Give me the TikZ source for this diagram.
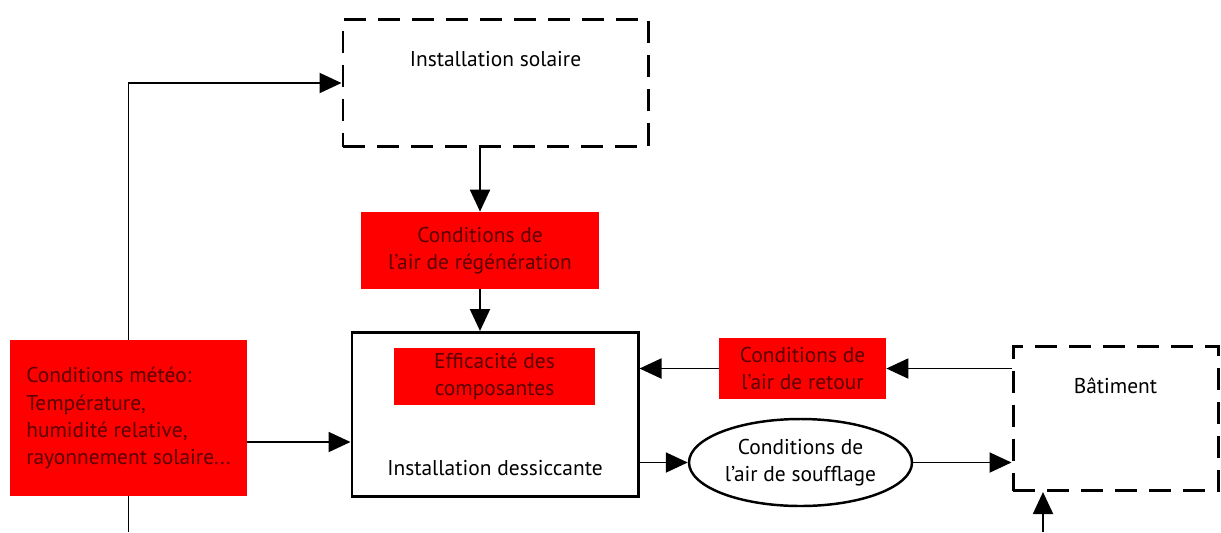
\documentclass[tikz,border=0pt]{standalone}
\usepackage{fontspec}
\setmainfont{PT Sans}
\usetikzlibrary{arrows.meta,positioning,shapes.geometric,calc}
\definecolor{boxred}{RGB}{255,0,0}
\definecolor{redtext}{RGB}{90,0,0}

\begin{document}
\begin{tikzpicture}[every node/.style={font=\fontsize{12.2}{15.4}\selectfont},
  flow/.style={-{Triangle[length=0.44cm,width=0.4cm]},line width=1.1pt},
  dashbox/.style={draw,line width=1.7pt,dash pattern=on 0.44cm off 0.24cm,inner sep=0pt},
  redbox/.style={fill=boxred,text=redtext,align=center,inner sep=0pt}]
  \useasboundingbox (0,0) rectangle (24.42,-10.64);
  \node[dashbox,anchor=north,minimum width=6.1cm,text height=0.94cm,text depth=1.6cm] (solar) at (9.91,-0.36) {Installation solaire};
  \node[redbox,minimum width=4.76cm,minimum height=1.54cm] (regen) at (9.6,-5.01) {Conditions de\\l'air de régénération};
  \node[draw,line width=1.7pt,inner sep=0pt,anchor=north,minimum width=5.72cm,text height=2.86cm,text depth=0.42cm] (desicc) at (9.9,-6.62) {Installation dessiccante};
  \node[redbox,minimum width=4.02cm,minimum height=1.14cm] (effic) at (9.89,-7.53) {Efficacité des\\composantes};
  \node[redbox,align=left,minimum width=4.74cm,minimum height=3.12cm] (meteo) at (2.57,-8.36) {Conditions météo:\\Température,\\humidité relative,\\rayonnement solaire...};
  \node[redbox,minimum width=3.34cm,minimum height=1.22cm] (retour) at (16.05,-7.37) {Conditions de\\l'air de retour};
  \node[draw,ellipse,line width=1.4pt,align=center,inner sep=0pt,minimum width=4.46cm,minimum height=1.74cm] (souffl) at (16.01,-9.25) {Conditions de\\l'air de soufflage};
  \node[dashbox,anchor=north,minimum width=4.1cm,text height=0.94cm,text depth=1.94cm] (bat) at (22.31,-6.9) {Bâtiment};
  \coordinate (mout) at (2.57,-10.64);
  \coordinate (batin) at (20.86,-10.64);
  \coordinate (m1) at ([yshift=-0.48cm]meteo.east);
  % liaisons
  \draw[flow] (meteo.north) |- (solar.west); \draw[line width=1.1pt] (meteo.south) -- (mout);
  \draw[flow] (regen.north |- solar.south) -- (regen.north); \draw[flow] (regen.south) -- (regen.south |- desicc.north);
  \draw[flow] (m1) -- (m1 -| desicc.west);
  \draw[flow] (retour.east -| bat.west) -- (retour.east); \draw[flow] (retour.west) -- (retour.west -| desicc.east);
  \draw[flow] (souffl.west -| desicc.east) -- (souffl.west); \draw[flow] (souffl.east) -- (souffl.east -| bat.west);
  \draw[flow] (batin) -- (batin |- bat.south);
\end{tikzpicture}
\end{document}
